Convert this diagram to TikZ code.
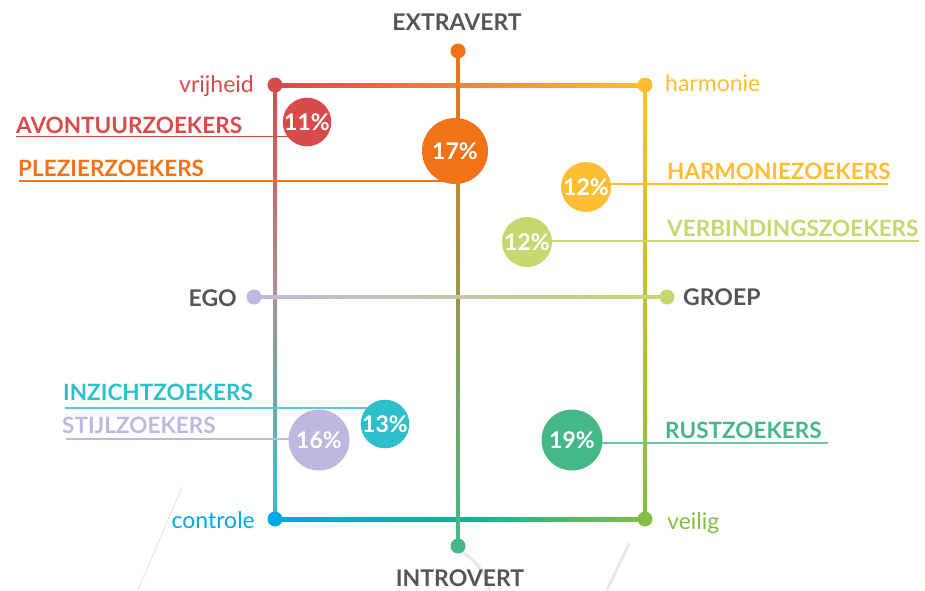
\documentclass[tikz,border=0pt]{standalone}
\usepackage{fontspec}
\setmainfont{Lato}
\usetikzlibrary{calc}
\definecolor{cRed}{HTML}{D94A4A}
\definecolor{cOrange}{HTML}{F07318}
\definecolor{cYellow}{HTML}{FDBE33}
\definecolor{cLime}{HTML}{C8D670}
\definecolor{cCyan}{HTML}{2EBFCC}
\definecolor{cLav}{HTML}{BDB8DE}
\definecolor{cGreen}{HTML}{45B887}
\definecolor{cBlue}{HTML}{00A9E6}
\definecolor{cTeal}{HTML}{0BB39B}
\definecolor{cVeilig}{HTML}{82BE44}
\definecolor{cGrey}{HTML}{555555}
\definecolor{cFaint}{HTML}{E8E8E8}
\definecolor{cMidL}{HTML}{A79593}
\tikzset{
  biglbl/.style={font=\bfseries\fontsize{22.5}{26}\selectfont, inner sep=0pt},
  smalllbl/.style={font=\fontsize{23}{27}\selectfont, inner sep=0pt},
  axislbl/.style={font=\bfseries\fontsize{23}{27}\selectfont, inner sep=0pt, text=cGrey},
  bubble/.style={circle, inner sep=0pt, minimum size=#1, text=white, font=\bfseries\fontsize{23}{27}\selectfont},
  enddot/.style={circle, inner sep=0pt, minimum size=15pt},
  uline/.style={line width=1.4pt},
}
\begin{document}
\begin{tikzpicture}[x=1pt,y=-1pt]
\useasboundingbox (0,0) rectangle (925,590);
% faint decorative strokes
\draw[cFaint, line width=1.2pt] (182,487) -- (138,590);
\draw[cFaint, line width=3pt, line cap=round] (462,552) .. controls (478,562) and (486,575) .. (490,590);
\draw[cFaint, line width=3pt, line cap=round] (629,544) -- (607,590);
% corner coordinates
\coordinate (TL) at (275,85);
\coordinate (TR) at (645,85);
\coordinate (BL) at (275,519);
\coordinate (BR) at (645,519);
\coordinate (AT) at (458,51);
\coordinate (AB) at (458,546);
\coordinate (AL) at (254,297);
\coordinate (AR) at (667,297);
% frame lines (gradients)
\shade[left color=cRed, right color=cYellow] ($(TL)+(0,-2)$) rectangle ($(TR)+(0,2)$);
\shade[left color=cBlue, right color=cVeilig, middle color=cTeal] ($(BL)+(0,-2)$) rectangle ($(BR)+(0,2)$);
\shade[top color=cRed, bottom color=cCyan, middle color=cMidL] ($(TL)+(-2,0)$) rectangle ($(BL)+(2,0)$);
\shade[top color=cYellow, bottom color=cVeilig] ($(TR)+(-2,0)$) rectangle ($(BR)+(2,0)$);
% axes
\shade[top color=cOrange, bottom color=cGreen] ($(AT)+(-1.8,0)$) rectangle ($(AB)+(1.8,0)$);
\shade[left color=cLav, right color=cLime] ($(AL)+(0,-1.8)$) rectangle ($(AR)+(0,1.8)$);
% dots
\node[enddot, fill=cRed] (dTL) at (TL) {};
\node[enddot, fill=cYellow] (dTR) at (TR) {};
\node[enddot, fill=cBlue] (dBL) at (BL) {};
\node[enddot, fill=cVeilig] (dBR) at (BR) {};
\node[enddot, fill=cOrange] (dAT) at (AT) {};
\node[enddot, fill=cGreen] (dAB) at (AB) {};
\node[enddot, fill=cLav] (dAL) at (AL) {};
\node[enddot, fill=cLime] (dAR) at (AR) {};
% axis labels
\node[axislbl, anchor=base] (extra) at (457,30) {EXTRAVERT};
\node[axislbl, anchor=base] (intro) at (460,586) {INTROVERT};
\node[axislbl, anchor=base east] (ego) at (237,306) {EGO};
\node[axislbl, anchor=base west] (groep) at (683,305) {GROEP};
% corner labels
\node[smalllbl, anchor=base east, text=cRed] (vrij) at (254,92) {vrijheid};
\node[smalllbl, anchor=base west, text=cYellow] (harm) at (665,91) {harmonie};
\node[smalllbl, anchor=base east, text=cBlue] (contr) at (255,528) {controle};
\node[smalllbl, anchor=base west, text=cVeilig] (veil) at (667,529) {veilig};
% underline coordinates
\coordinate (uAv) at (16,136.5);
\coordinate (uPl) at (19,181);
\coordinate (uHa) at (888,184);
\coordinate (uVe) at (919,241);
\coordinate (uIn) at (65,408);
\coordinate (uSt) at (66,439);
\coordinate (uRu) at (828,443);
% bubble positions
\coordinate (pAv) at (307,122);
\coordinate (pPl) at (455,151);
\coordinate (pHa) at (586,187);
\coordinate (pVe) at (527,242);
\coordinate (pIn) at (385,424);
\coordinate (pSt) at (319,440);
\coordinate (pRu) at (572,440);
% underlines
\draw[uline, cRed] (uAv) -- (uAv -| pAv);
\draw[uline, cOrange] (uPl) -- (uPl -| pPl);
\draw[uline, cYellow] (uHa -| pHa) -- (uHa);
\draw[uline, cLime] (uVe -| pVe) -- (uVe);
\draw[uline, cCyan!80] (uIn) -- (uIn -| pIn);
\draw[uline, cLav] (uSt) -- (uSt -| pSt);
\draw[uline, cGreen!80] (uRu -| pRu) -- (uRu);
% group labels
\node[biglbl, anchor=base west, text=cRed] (lAv) at (16,133) {AVONTUURZOEKERS};
\node[biglbl, anchor=base west, text=cOrange] (lPl) at (18,176) {PLEZIERZOEKERS};
\node[biglbl, anchor=base west, text=cYellow] (lHa) at (667,179) {HARMONIEZOEKERS};
\node[biglbl, anchor=base west, text=cLime] (lVe) at (667,236) {VERBINDINGSZOEKERS};
\node[biglbl, anchor=base west, text=cCyan] (lIn) at (63,400) {INZICHTZOEKERS};
\node[biglbl, anchor=base west, text=cLav] (lSt) at (62,433) {STIJLZOEKERS};
\node[biglbl, anchor=base west, text=cGreen] (lRu) at (665,438) {RUSTZOEKERS};
% bubbles
\node[bubble=44pt, fill=cRed] (bAv) at (pAv) {11\%};
\node[bubble=66pt, fill=cOrange] (bPl) at (pPl) {17\%};
\node[bubble=50pt, fill=cYellow] (bHa) at (pHa) {12\%};
\node[bubble=50pt, fill=cLime] (bVe) at (pVe) {12\%};
\node[bubble=46pt, fill=cCyan] (bIn) at (pIn) {13\%};
\node[bubble=61pt, fill=cLav] (bSt) at (pSt) {16\%};
\node[bubble=61pt, fill=cGreen] (bRu) at (pRu) {19\%};
\end{tikzpicture}
\end{document}
